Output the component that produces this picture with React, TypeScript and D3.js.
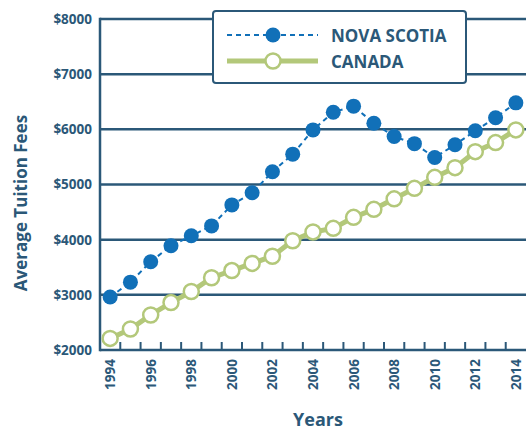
import React from "react";
import * as d3 from "d3";

const years = [1994,1995,1996,1997,1998,1999,2000,2001,2002,2003,2004,2005,2006,2007,2008,2009,2010,2011,2012,2013,2014];
const novaScotia = [2960,3230,3600,3890,4070,4250,4630,4850,5230,5550,5990,6310,6420,6110,5870,5740,5490,5720,5975,6210,6480];
const canada = [2210,2380,2635,2860,3060,3310,3440,3570,3700,3980,4140,4205,4405,4550,4740,4930,5130,5305,5595,5760,5990];
const yTicks = [2000,3000,4000,5000,6000,7000,8000];
const xLabels = [1994,1996,1998,2000,2002,2004,2006,2008,2010,2012,2014];

const DARK = "#2b5878";
const BLUE = "#1170b8";
const GREEN = "#b3c87a";
const FONT = "'Open Sans', Lato, sans-serif";

export default function App() {
  const W = 526, H = 430;
  const left = 100, right = 526, top = 19, bottom = 350;
  const x = d3.scaleBand<number>().domain(years).range([left, right]).padding(0);
  const cx = (yr: number) => (x(yr) as number) + x.bandwidth() / 2;
  const y = d3.scaleLinear().domain([2000, 8000]).range([bottom, top]);
  const line = d3.line<number>().x((_, i) => cx(years[i])).y((d) => y(d));

  return (
    <svg width={W} height={H} style={{ position: "absolute", left: 0, top: 0, fontFamily: FONT }}>
      <rect width={W} height={H} fill="#fff" />
      {yTicks.map((t) => (
        <g key={t}>
          <line x1={left} x2={right} y1={y(t)} y2={y(t)} stroke={DARK} strokeWidth={2.5} />
          <text x={92} y={y(t)} dy="0.36em" textAnchor="end" fill={DARK} fontSize={13.5} fontWeight={700}>
            ${t}
          </text>
        </g>
      ))}
      <line x1={left} x2={left} y1={top - 1.25} y2={bottom + 1.25} stroke={DARK} strokeWidth={2.5} />
      {years.slice(1).map((yr) => (
        <line key={yr} x1={x(yr)} x2={x(yr)} y1={bottom} y2={bottom - 8} stroke={DARK} strokeWidth={2} />
      ))}
      {xLabels.map((yr) => (
        <text key={yr} transform={`translate(${cx(yr) + 5},${359}) rotate(-90)`} textAnchor="end"
          fill={DARK} fontSize={13.5} fontWeight={700}>{yr}</text>
      ))}
      <text transform={`translate(27,203) rotate(-90)`} textAnchor="middle" fill={DARK} fontSize={17} fontWeight={700}>
        Average Tuition Fees
      </text>
      <text x={318} y={426} textAnchor="middle" fill={DARK} fontSize={18} fontWeight={700}>Years</text>

      <path d={line(canada) || ""} fill="none" stroke={GREEN} strokeWidth={5} />
      {canada.map((v, i) => (
        <circle key={i} cx={cx(years[i])} cy={y(v)} r={7.5} fill="#fff" stroke={GREEN} strokeWidth={2.5} />
      ))}
      <path d={line(novaScotia) || ""} fill="none" stroke={BLUE} strokeWidth={2} strokeDasharray="5,4" />
      {novaScotia.map((v, i) => (
        <circle key={i} cx={cx(years[i])} cy={y(v)} r={7.5} fill={BLUE} />
      ))}

      <g>
        <rect x={213} y={11} width={253} height={72} rx={3} fill="#fff" stroke={DARK} strokeWidth={2} />
        <line x1={227} x2={318} y1={35} y2={35} stroke={BLUE} strokeWidth={2} strokeDasharray="5,4" />
        <circle cx={273} cy={35} r={7.5} fill={BLUE} />
        <text x={331} y={42} fill={DARK} fontSize={17} fontWeight={700}>NOVA SCOTIA</text>
        <line x1={227} x2={318} y1={61} y2={61} stroke={GREEN} strokeWidth={5} />
        <circle cx={273} cy={61} r={7.5} fill="#fff" stroke={GREEN} strokeWidth={2.5} />
        <text x={331} y={68} fill={DARK} fontSize={17} fontWeight={700}>CANADA</text>
      </g>
    </svg>
  );
}
